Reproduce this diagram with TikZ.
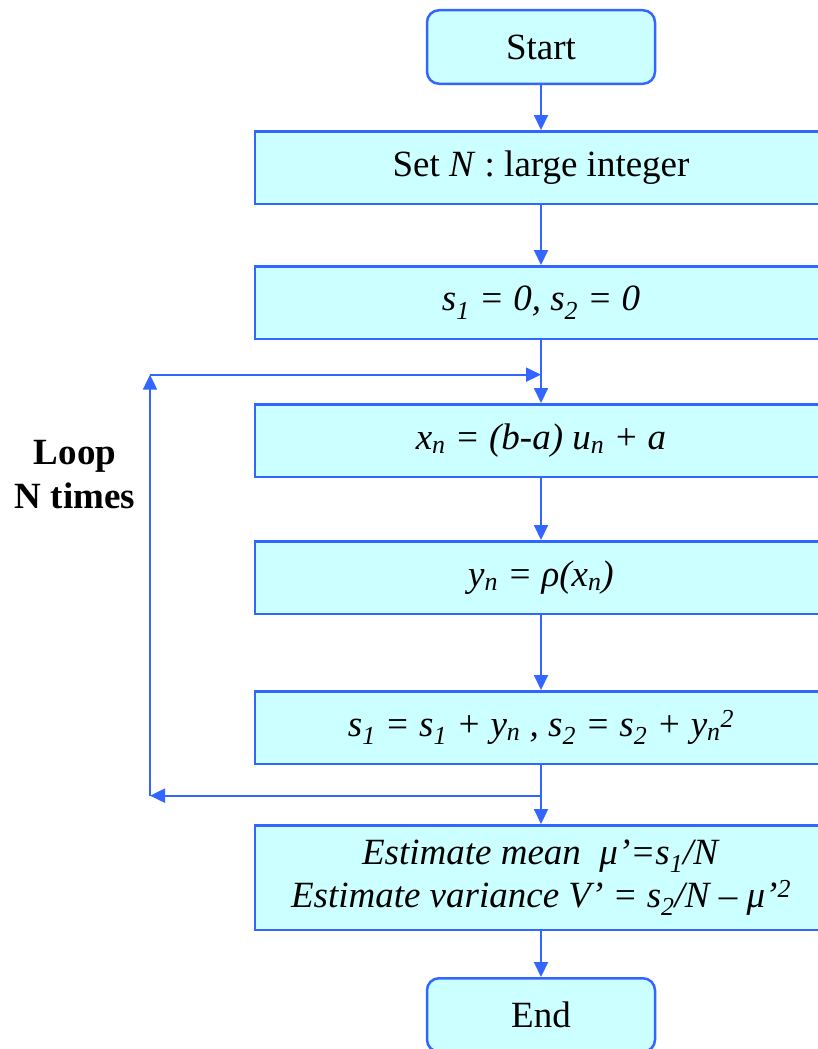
\documentclass[tikz,border=0pt]{standalone}
\usepackage{fontspec}
\setmainfont{Liberation Serif}
\definecolor{boxfill}{RGB}{204,255,255}
\definecolor{flowblue}{RGB}{51,102,255}
\usetikzlibrary{positioning, calc, arrows.meta}

\begin{document}
\begin{tikzpicture}[
        x=1pt, y=1pt,
        font=\fontsize{37}{43}\selectfont,
        box/.style={rectangle, draw=flowblue, fill=boxfill, line width=2.5pt, minimum width=572pt, minimum height=72.5pt, align=center},
        term/.style={rectangle, draw=flowblue, fill=boxfill, line width=2.5pt, minimum width=228pt, minimum height=73.5pt, align=center, rounded corners=12pt},
        arrow/.style={-{Triangle[length=15pt, width=14pt]}, draw=flowblue, line width=2pt},
        looplabel/.style={align=center, font=\fontsize{37}{44}\selectfont\bfseries}
    ]
        \useasboundingbox (0,0) rectangle (818,-1049);
        \clip (0,0) rectangle (818,-1049);

        % Start
        \node[term] (START) at (541,-47) {Start};

        % Steps
        \node[box, below=45pt of START] (SETN) {Set \textit{N} : large integer};
        \node[box, below=60pt of SETN] (INIT) {\textit{s\textsubscript{1} = 0, s\textsubscript{2} = 0}};
        \node[box, below=63pt of INIT] (XN) {\textit{x\textsubscript{n} = (b-a) u\textsubscript{n} + a}};
        \node[box, below=62pt of XN] (YN) {\textit{y\textsubscript{n} = ρ(x\textsubscript{n})}};
        \node[box, below=75pt of YN] (SUM) {\textit{s\textsubscript{1} = s\textsubscript{1} + y\textsubscript{n} , s\textsubscript{2} = s\textsubscript{2} + y\textsubscript{n}\textsuperscript{2}}};
        \node[box, minimum height=104.5pt, below=59pt of SUM] (EST) {\textit{Estimate mean ~μ’=s\textsubscript{1}/N}\\\textit{Estimate variance V’ = s\textsubscript{2}/N – μ’\textsuperscript{2}}};

        % End
        \node[term, below=46pt of EST] (END) {End};

        % Loop
        \coordinate (J1) at ($(INIT.south)!0.55!(XN.north)$);
        \coordinate (J2) at ($(SUM.south)!0.52!(EST.north)$);
        \coordinate (L1) at (150,0 |- J1);
        \coordinate (L2) at (150,0 |- J2);
        \node[looplabel] (LOOP) at (75,-475) {Loop\\N times};

        % Arrows
        \draw[arrow] (START) -- (SETN);
        \draw[arrow] (SETN) -- (INIT);
        \draw[arrow] (INIT) -- (XN);
        \draw[arrow] (XN) -- (YN);
        \draw[arrow] (YN) -- (SUM);
        \draw[arrow] (SUM) -- (EST);
        \draw[arrow] (EST) -- (END);
        \draw[arrow] (J2) -- (L2);
        \draw[arrow] (L2) -- (L1);
        \draw[arrow] (L1) -- (J1);
    \end{tikzpicture}
\end{document}
